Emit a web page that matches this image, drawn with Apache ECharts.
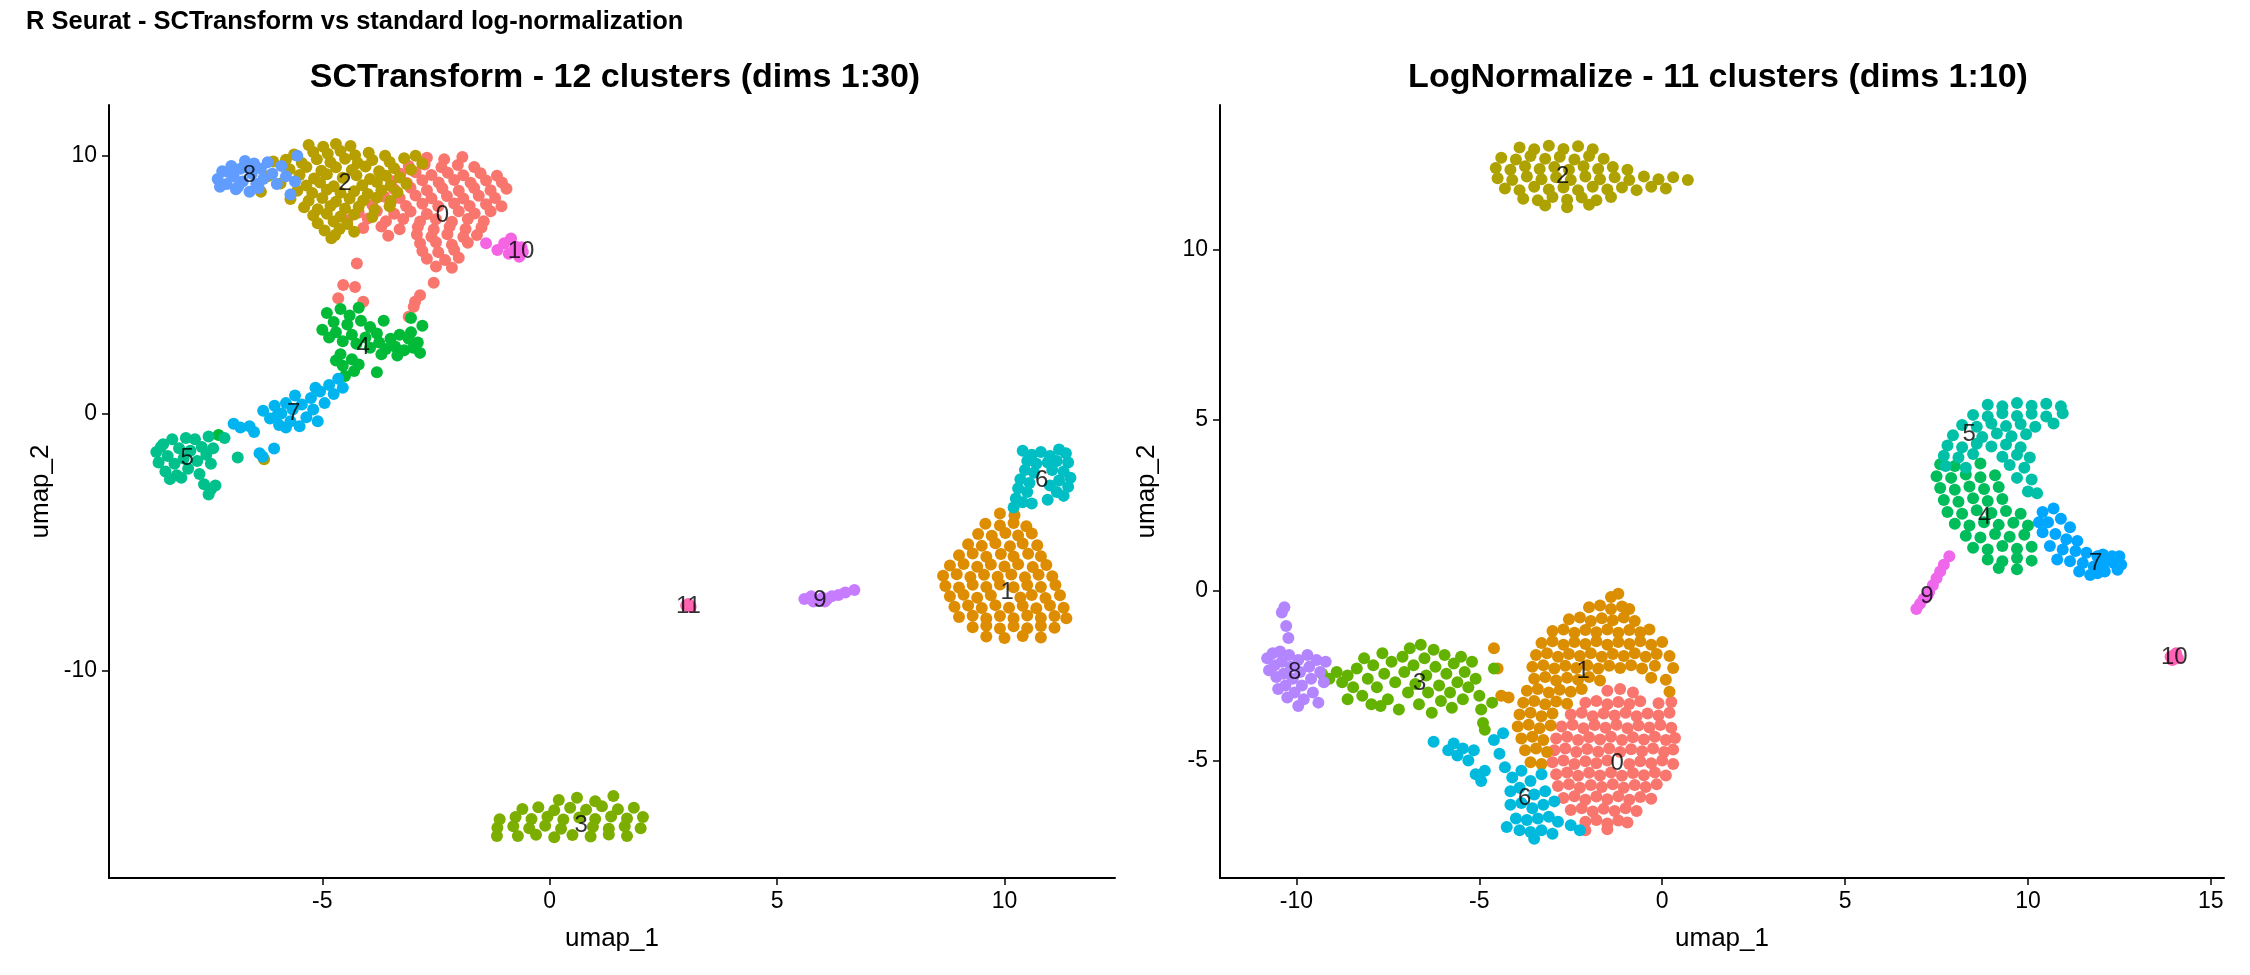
<!DOCTYPE html>
<html><head><meta charset="utf-8">
<script src="https://cdn.jsdelivr.net/npm/echarts@6/dist/echarts.min.js"></script>
<style>html,body{margin:0;padding:0;background:#fff;overflow:hidden}#c{width:2250px;height:975px}</style>
</head><body><div id="c"></div>
<script>
// ---------- tick labels ----------
const LX_TICKS = [-5, 0, 5, 10];
const LY_TICKS = [-10, 0, 10];
const RX_TICKS = [-10, -5, 0, 5, 10, 15];
const RY_TICKS = [-5, 0, 5, 10];

// ---------- cluster names & colours ----------
const L_NAMES = ['0','1','2','3','4','5','6','7','8','9','10','11'];
const L_COLORS = ['#F8766D','#DE8C00','#B79F00','#7CAE00','#00BA38','#00C08B','#00BFC4','#00B4F0','#619CFF','#C77CFF','#F564E3','#FF64B0'];
const R_NAMES = ['0','1','2','3','4','5','6','7','8','9','10'];
const R_COLORS = ['#F8766D','#DB8E00','#AEA200','#64B200','#00BD5C','#00C1A7','#00BADE','#00A6FF','#B385FF','#EF67EB','#FF63B6'];

// ---------- cluster label positions ----------
const L_LABEL_POS = [[-2.36,7.69],[10.06,-6.96],[-4.5,8.93],[0.69,-16.0],[-4.1,2.58],[-7.97,-1.75],[10.82,-2.59],[-5.63,0.0],[-6.6,9.24],[5.94,-7.24],[-0.63,6.27],[3.05,-7.47]];
const R_LABEL_POS = [[-1.23,-5.08],[-2.16,-2.38],[-2.72,12.14],[-6.63,-2.72],[8.82,2.14],[8.39,4.58],[-3.76,-6.12],[11.85,0.8],[-10.05,-2.4],[7.24,-0.17],[14.0,-1.97]];

// ---------- SCTransform (left) cells ----------
const L0 = [[-2.7,9.92],[-2.32,9.86],[-1.92,9.95],[-3.1,9.6],[-2.75,9.66],[-2.38,9.55],[-2.02,9.64],[-1.66,9.56],
[-3.28,9.3],[-2.95,9.36],[-2.6,9.25],[-2.24,9.34],[-1.9,9.24],[-1.52,9.32],[-1.16,9.22],
[-3.48,9.02],[-3.14,8.94],[-2.8,9.05],[-2.44,8.96],[-2.1,9.06],[-1.74,8.95],[-1.4,9.04],[-1.05,8.96],
[-3.42,8.7],[-3.06,8.76],[-2.7,8.66],[-2.36,8.74],[-2.0,8.64],[-1.66,8.75],[-1.3,8.66],[-0.95,8.72],
[-3.64,8.42],[-3.3,8.36],[-2.95,8.46],[-2.6,8.35],[-2.26,8.44],[-1.9,8.34],[-1.56,8.45],[-1.2,8.36],
[-3.9,8.1],[-3.5,8.16],[-3.16,8.05],[-2.8,8.14],[-2.45,8.04],[-2.1,8.15],[-1.76,8.05],[-1.4,8.12],[-1.06,8.04],
[-4.2,7.8],[-3.8,7.86],[-3.42,7.75],[-3.06,7.84],[-2.7,7.74],[-2.0,7.85],[-1.65,7.76],[-1.3,7.85],
[-4.45,7.5],[-4.0,7.56],[-3.6,7.46],[-3.22,7.55],[-2.85,7.45],[-2.5,7.54],[-2.15,7.44],[-1.8,7.55],[-1.45,7.46],
[-4.1,7.2],[-3.7,7.25],[-3.3,7.15],[-2.9,7.24],[-2.55,7.14],[-2.2,7.25],[-1.85,7.16],[-1.5,7.22],
[-3.55,6.9],[-2.92,6.94],[-2.6,6.86],[-2.25,6.95],[-1.9,6.85],[-1.6,6.92],
[-2.85,6.6],[-2.5,6.64],[-2.15,6.55],[-1.8,6.62],[-2.8,6.3],[-2.45,6.26],[-2.1,6.34],
[-2.7,6.0],[-2.3,5.95],[-2.0,6.04],[-2.5,5.7],[-2.15,5.65],
[-4.24,5.82],[-4.54,4.98],[-4.28,4.91],[-4.1,4.33],[-4.65,4.47],[-2.55,5.07],[-2.85,4.59],[-2.96,4.33],[-2.99,4.14],[-3.1,3.75]];
const L1 = [[9.9,-3.88],[10.22,-3.95],[9.58,-4.28],[9.9,-4.35],[10.2,-4.25],[10.48,-4.38],
[9.42,-4.68],[9.72,-4.75],[10.02,-4.64],[10.3,-4.74],[10.6,-4.66],
[9.2,-5.08],[9.5,-5.14],[9.8,-5.04],[10.12,-5.15],[10.4,-5.05],[10.72,-5.12],
[9.0,-5.5],[9.3,-5.44],[9.6,-5.56],[9.92,-5.46],[10.2,-5.55],[10.52,-5.45],[10.8,-5.54],
[8.8,-5.9],[9.1,-5.84],[9.4,-5.95],[9.7,-5.86],[10.0,-5.94],[10.3,-5.85],[10.62,-5.96],[10.92,-5.88],
[8.65,-6.3],[8.95,-6.24],[9.25,-6.35],[9.55,-6.26],[9.85,-6.34],[10.15,-6.25],[10.45,-6.36],[10.75,-6.26],[11.05,-6.32],
[8.7,-6.7],[9.0,-6.76],[9.3,-6.65],[9.6,-6.74],[9.9,-6.64],[10.2,-6.75],[10.5,-6.66],[10.8,-6.74],[11.12,-6.66],
[8.8,-7.1],[9.1,-7.04],[9.4,-7.15],[9.7,-7.06],[10.35,-7.14],[10.6,-7.05],[10.9,-7.16],[11.22,-7.06],
[8.9,-7.5],[9.2,-7.45],[9.5,-7.55],[9.8,-7.44],[10.1,-7.54],[10.4,-7.46],[10.7,-7.56],[11.0,-7.45],[11.3,-7.54],
[9.0,-7.9],[9.3,-7.85],[9.6,-7.96],[9.9,-7.86],[10.2,-7.95],[10.5,-7.84],[10.8,-7.94],[11.1,-7.86],[11.36,-7.95],
[9.3,-8.3],[9.6,-8.24],[9.9,-8.35],[10.2,-8.26],[10.5,-8.34],[10.8,-8.25],[11.1,-8.32],
[9.6,-8.66],[10.0,-8.72],[10.4,-8.64],[10.8,-8.7]];
const L2 = [[-5.3,10.42],[-4.98,10.35],[-4.7,10.46],[-4.38,10.38],
[-5.62,10.05],[-5.2,10.15],[-4.88,10.08],[-4.6,10.18],[-4.28,10.02],[-3.98,10.12],[-3.62,10.0],
[-6.08,9.78],[-5.8,9.85],[-5.45,9.72],[-5.12,9.86],[-4.82,9.75],[-4.5,9.88],[-4.22,9.72],[-3.9,9.84],[-3.52,9.76],[-3.2,9.9],
[-5.72,9.48],[-5.35,9.56],[-5.02,9.42],[-4.7,9.55],[-4.35,9.45],[-4.05,9.58],[-3.75,9.4],[-3.42,9.52],[-3.05,9.46],
[-6.2,9.2],[-5.5,9.25],[-5.18,9.12],[-4.9,9.28],[-4.55,9.15],[-4.25,9.24],[-3.95,9.1],[-3.6,9.22],[-3.3,9.16],
[-5.92,8.92],[-5.35,8.85],[-5.05,8.96],[-4.75,8.82],[-4.12,8.86],[-3.8,8.98],[-3.5,8.84],[-3.15,8.9],
[-6.35,8.6],[-5.55,8.64],[-5.22,8.55],[-4.9,8.68],[-4.6,8.56],[-4.3,8.62],[-4.0,8.52],[-3.7,8.66],[-3.35,8.58],
[-5.7,8.32],[-5.3,8.25],[-5.0,8.36],[-4.7,8.22],[-4.4,8.34],[-4.1,8.26],[-3.8,8.38],[-3.5,8.24],
[-5.4,8.0],[-5.1,7.92],[-4.82,8.05],[-4.5,7.95],[-4.2,8.02],[-3.85,7.9],[-3.52,8.04],
[-5.2,7.68],[-4.9,7.75],[-4.6,7.64],[-4.3,7.72],[-3.9,7.62],
[-5.1,7.38],[-4.75,7.45],[-4.45,7.35],[-4.95,7.1],[-4.62,7.16],[-4.3,7.05],[-4.8,6.8],[-4.72,6.92],
[-2.95,10.0],[-2.8,9.7],[-6.28,-1.78]];
const L3 = [[0.2,-15.0],[0.6,-14.92],[1.0,-15.05],[1.4,-14.85],
[-0.6,-15.35],[-0.25,-15.28],[0.1,-15.4],[0.45,-15.3],[0.8,-15.38],[1.15,-15.25],[1.5,-15.36],[1.85,-15.3],
[-1.1,-15.75],[-0.75,-15.66],[-0.4,-15.74],[-0.05,-15.65],[0.3,-15.76],[0.65,-15.68],[1.0,-15.74],[1.35,-15.64],[1.7,-15.72],[2.05,-15.66],
[-1.15,-16.08],[-0.8,-16.02],[-0.45,-16.1],[-0.1,-16.0],[0.25,-16.12],[0.95,-16.04],[1.3,-16.12],[1.65,-16.02],[2.0,-16.1],
[-0.7,-16.4],[-0.3,-16.35],[0.1,-16.45],[0.5,-16.36],[0.9,-16.42],[1.3,-16.34],[1.7,-16.4],[-1.16,-16.4]];
const L4 = [[-4.9,3.9],[-4.6,4.05],[-4.4,3.8],[-4.75,3.55],[-4.45,3.45],[-4.15,3.6],[-3.95,3.35],[-5.0,3.25],[-4.7,3.15],[-4.35,3.05],
[-4.05,2.95],[-4.55,2.8],[-4.25,2.7],[-3.8,3.1],[-3.65,3.6],[-4.85,2.95],[-4.2,4.1],
[-3.75,2.75],[-3.5,2.9],[-3.3,3.05],[-3.1,2.9],[-2.9,2.75],[-3.6,2.5],[-3.4,2.6],[-3.2,2.45],[-3.0,2.55],[-2.85,2.35],[-3.35,2.25],[-3.7,2.3],[-3.05,3.15],[-3.95,2.55],
[-4.6,2.3],[-4.35,2.1],[-4.55,1.85],[-4.3,1.65],[-4.5,1.45],[-4.2,1.9],[-4.7,2.05],[-3.8,1.6],[-2.8,3.4],[-3.05,3.7],[-7.28,-0.84]];
const L5 = [[-8.65,-1.5],[-8.6,-1.9],[-8.5,-1.2],[-8.45,-2.25],[-8.4,-1.65],[-8.3,-1.0],[-8.25,-1.95],[-8.2,-2.4],[-8.15,-1.35],[-8.05,-1.75],
[-8.0,-0.95],[-7.95,-2.15],[-7.9,-1.45],[-7.8,-1.0],[-7.75,-1.85],[-7.7,-2.35],[-7.65,-1.3],[-7.55,-1.6],[-7.5,-0.9],[-7.45,-1.95],
[-7.4,-1.35],[-8.35,-2.55],[-8.55,-1.3],[-7.6,-2.75],[-7.45,-2.95],[-7.35,-2.8],[-7.5,-3.15],[-7.15,-0.95],[-8.1,-2.5],[-6.86,-1.71]];
const L6 = [[10.4,-1.45],[10.6,-1.6],[10.8,-1.5],[11.0,-1.65],[11.2,-1.4],[11.35,-1.55],[10.5,-1.85],[10.7,-1.95],[10.95,-1.9],[11.15,-1.85],
[11.4,-1.9],[10.45,-2.2],[10.65,-2.3],[11.05,-2.2],[11.3,-2.25],[11.45,-2.5],[10.35,-2.55],[10.55,-2.7],[11.2,-2.6],[11.0,-2.8],
[11.4,-2.85],[10.3,-2.9],[10.5,-3.05],[11.15,-3.05],[10.25,-3.3],[10.4,-3.45],[10.95,-3.35],[10.2,-3.65],[10.6,-3.5],[11.3,-3.2]];
const L7 = [[-6.3,0.1],[-6.15,-0.2],[-6.05,0.3],[-5.95,-0.45],[-5.9,0.0],[-5.8,0.4],[-5.7,-0.3],[-5.65,0.15],[-5.5,-0.5],[-5.45,0.35],
[-5.35,-0.15],[-5.25,0.6],[-5.2,0.15],[-5.1,-0.3],[-5.05,0.85],[-4.95,0.4],[-4.85,1.1],[-4.75,0.75],[-4.65,1.35],[-4.55,1.0],
[-5.6,0.7],[-5.15,1.0],[-6.0,-0.1],[-5.8,-0.55],[-6.95,-0.4],[-6.8,-0.55],[-6.6,-0.5],[-6.5,-0.72],[-6.38,-1.55],[-6.31,-1.68],[-6.06,-1.36]];
const L8 = [[-7.3,9.1],[-7.2,9.4],[-7.1,8.9],[-7.0,9.6],[-6.95,9.2],[-6.9,8.7],[-6.8,9.5],[-6.75,9.0],[-6.7,9.8],[-6.6,8.6],
[-6.55,9.3],[-6.5,9.7],[-6.45,8.9],[-6.35,9.5],[-6.3,9.1],[-6.2,9.75],[-6.1,9.3],[-6.0,8.9],[-5.9,9.6],[-5.8,9.2],
[-5.7,8.5],[-5.6,9.0],[-5.55,10.0],[-7.25,8.8],[-7.05,9.35],[-6.85,8.8],[-6.65,9.55],[-6.4,8.75]];
const L9 = [[5.6,-7.2],[5.75,-7.1],[5.9,-7.25],[6.0,-7.15],[6.1,-7.2],[6.2,-7.1],[6.35,-7.05],[6.5,-6.95],[6.7,-6.85],[5.8,-7.3],[6.05,-7.3]];
const L10 = [[-1.4,6.6],[-1.15,6.34],[-1.0,6.6],[-0.85,6.79],[-0.78,6.34],[-0.67,6.08],[-0.59,6.27],[-0.74,6.47],[-0.62,6.45],[-0.9,6.2]];
const L11 = [[3.0,-7.45],[3.1,-7.5],[3.05,-7.4]];

// ---------- LogNormalize (right) cells ----------
const R0 = [[-1.5,-2.95],[-1.15,-2.9],[-0.8,-3.0],
[-2.1,-3.3],[-1.8,-3.25],[-1.5,-3.35],[-1.2,-3.28],[-0.9,-3.34],[-0.6,-3.26],[-0.1,-3.32],[0.25,-3.28],
[-2.5,-3.65],[-2.2,-3.6],[-1.9,-3.7],[-1.6,-3.62],[-1.3,-3.68],[-1.0,-3.6],[-0.7,-3.7],[-0.4,-3.62],[-0.1,-3.68],[0.2,-3.6],
[-2.75,-4.0],[-2.45,-3.95],[-2.15,-4.05],[-1.85,-3.96],[-1.55,-4.04],[-1.25,-3.95],[-0.95,-4.05],[-0.65,-3.97],[-0.35,-4.03],[-0.05,-3.96],[0.25,-4.04],
[-2.9,-4.35],[-2.6,-4.3],[-2.3,-4.4],[-2.0,-4.32],[-1.7,-4.38],[-1.4,-4.3],[-1.1,-4.4],[-0.8,-4.32],[-0.5,-4.38],[-0.2,-4.3],[0.1,-4.4],[0.35,-4.34],
[-2.95,-4.7],[-2.65,-4.65],[-2.35,-4.75],[-2.05,-4.66],[-1.75,-4.74],[-1.45,-4.65],[-1.15,-4.75],[-0.85,-4.67],[-0.55,-4.73],[-0.25,-4.65],[0.05,-4.75],[0.3,-4.68],
[-3.0,-5.05],[-2.7,-5.0],[-2.4,-5.1],[-2.1,-5.02],[-1.8,-5.08],[-1.5,-5.0],[-0.9,-5.1],[-0.6,-5.02],[-0.3,-5.08],[0.0,-5.0],[0.3,-5.1],
[-2.9,-5.4],[-2.6,-5.35],[-2.3,-5.45],[-2.0,-5.36],[-1.7,-5.44],[-1.4,-5.35],[-1.1,-5.45],[-0.8,-5.37],[-0.5,-5.43],[-0.2,-5.35],[0.1,-5.44],
[-2.85,-5.75],[-2.55,-5.7],[-2.25,-5.8],[-1.95,-5.72],[-1.65,-5.78],[-1.35,-5.7],[-1.05,-5.8],[-0.75,-5.72],[-0.45,-5.78],[-0.15,-5.7],
[-2.7,-6.1],[-2.4,-6.05],[-2.1,-6.15],[-1.8,-6.06],[-1.5,-6.14],[-1.2,-6.05],[-0.9,-6.15],[-0.6,-6.07],[-0.3,-6.12],
[-2.5,-6.45],[-2.2,-6.4],[-1.9,-6.5],[-1.6,-6.42],[-1.3,-6.48],[-1.0,-6.4],[-0.7,-6.48],
[-2.1,-6.8],[-1.8,-6.75],[-1.5,-6.85],[-1.2,-6.76],[-0.95,-6.82],[-2.1,-7.05],[-1.5,-7.02]];
const R1 = [[-1.4,-0.2],[-1.2,-0.1],
[-2.0,-0.5],[-1.7,-0.45],[-1.4,-0.55],[-1.1,-0.48],[-0.9,-0.55],
[-2.55,-0.85],[-2.25,-0.8],[-1.95,-0.9],[-1.65,-0.82],[-1.35,-0.88],[-1.05,-0.8],[-0.75,-0.9],
[-3.0,-1.2],[-2.7,-1.15],[-2.4,-1.25],[-2.1,-1.17],[-1.8,-1.23],[-1.5,-1.15],[-1.2,-1.25],[-0.9,-1.17],[-0.6,-1.23],[-0.35,-1.15],
[-3.3,-1.55],[-3.0,-1.5],[-2.7,-1.6],[-2.4,-1.52],[-2.1,-1.58],[-1.8,-1.5],[-1.5,-1.6],[-1.2,-1.52],[-0.9,-1.58],[-0.6,-1.5],[-0.3,-1.6],[0.0,-1.52],
[-3.45,-1.9],[-3.15,-1.85],[-2.85,-1.95],[-2.55,-1.87],[-2.25,-1.93],[-1.95,-1.85],[-1.65,-1.95],[-1.35,-1.87],[-1.05,-1.93],[-0.75,-1.85],[-0.45,-1.95],[-0.15,-1.87],[0.2,-1.93],
[-3.55,-2.25],[-3.25,-2.2],[-2.95,-2.3],[-2.65,-2.22],[-2.35,-2.28],[-2.05,-2.2],[-1.75,-2.3],[-1.45,-2.22],[-1.15,-2.28],[-0.85,-2.2],[-0.55,-2.3],[-0.2,-2.22],[0.3,-2.28],
[-3.5,-2.6],[-3.2,-2.55],[-2.9,-2.65],[-2.6,-2.57],[-2.3,-2.63],[-2.0,-2.55],[-1.7,-2.65],[-0.3,-2.57],[0.1,-2.63],
[-3.7,-2.95],[-3.4,-2.9],[-3.1,-3.0],[-2.8,-2.92],[-2.5,-2.98],[-2.2,-2.9],[0.2,-2.98],
[-3.8,-3.3],[-3.5,-3.25],[-3.2,-3.35],[-2.9,-3.27],[-2.6,-3.33],
[-3.9,-3.65],[-3.6,-3.6],[-3.3,-3.7],[-3.0,-3.62],
[-3.95,-4.0],[-3.65,-3.95],[-3.35,-4.05],[-3.05,-3.97],
[-3.85,-4.35],[-3.55,-4.3],[-3.25,-4.4],[-3.75,-4.7],[-3.45,-4.65],[-3.15,-4.75],[-3.6,-5.05],[-3.3,-5.1],
[-4.6,-1.7],[-4.4,-3.1],[-4.2,-3.15],[-4.5,-2.3]];
const R2 = [[-3.9,13.0],[-3.5,12.95],[-3.1,13.05],[-2.7,12.96],[-2.3,13.04],[-1.9,12.95],
[-4.4,12.7],[-4.0,12.65],[-3.6,12.75],[-3.2,12.67],[-2.8,12.73],[-2.4,12.65],[-2.0,12.75],[-1.6,12.67],
[-4.55,12.4],[-4.15,12.35],[-3.75,12.45],[-3.35,12.37],[-2.95,12.43],[-2.55,12.35],[-2.15,12.45],[-1.75,12.37],[-1.35,12.43],[-0.95,12.35],
[-4.5,12.1],[-4.1,12.05],[-3.7,12.15],[-3.3,12.07],[-2.9,12.13],[-2.5,12.05],[-2.1,12.15],[-1.7,12.07],[-1.3,12.13],[-0.9,12.05],[-0.5,12.15],[-0.1,12.07],[0.3,12.13],[0.7,12.05],
[-4.3,11.8],[-3.9,11.75],[-3.5,11.85],[-3.1,11.77],[-2.7,11.83],[-2.3,11.75],[-1.9,11.85],[-1.5,11.77],[-1.1,11.83],[-0.7,11.75],[-0.3,11.85],[0.1,11.8],
[-3.8,11.5],[-3.4,11.45],[-3.0,11.55],[-2.6,11.47],[-2.2,11.53],[-1.8,11.45],[-1.4,11.55],
[-3.2,11.3],[-2.6,11.25],[-2.0,11.32]];
const R3 = [[-9.3,-2.45],[-9.1,-2.6],[-8.9,-2.4],[-8.75,-2.7],[-8.6,-2.5],[-8.45,-2.85],[-8.35,-2.3],[-8.2,-3.1],[-8.15,-2.0],[-8.05,-2.6],
[-7.95,-3.35],[-7.9,-2.2],[-7.8,-2.85],[-7.65,-1.85],[-7.6,-2.45],[-7.5,-3.2],[-7.4,-2.1],[-7.3,-2.7],[-7.2,-3.5],[-7.1,-1.95],
[-7.05,-2.4],[-6.95,-3.0],[-6.9,-1.7],[-6.8,-2.2],[-6.75,-2.75],[-6.65,-3.35],[-6.6,-1.6],[-6.5,-2.0],[-6.45,-2.5],[-6.4,-3.0],
[-6.3,-3.6],[-6.25,-1.75],[-6.2,-2.25],[-6.1,-2.8],[-6.05,-3.25],[-5.95,-1.9],[-5.9,-2.45],[-5.8,-3.0],[-5.75,-3.45],[-5.7,-2.15],
[-5.6,-2.7],[-5.5,-1.95],[-5.45,-3.2],[-5.4,-2.4],[-5.3,-2.85],[-5.2,-2.1],[-5.1,-2.6],[-5.0,-3.1],[-4.95,-3.5],[-4.9,-3.9],
[-4.85,-4.1],[-4.6,-2.3],[-4.65,-3.3],[-8.6,-3.2],[-7.7,-3.4]];
const R4 = [[7.6,3.7],[8.0,3.65],[8.7,3.72],
[7.5,3.35],[7.9,3.3],[8.3,3.4],[8.7,3.32],[9.1,3.38],
[7.6,3.0],[8.0,2.95],[8.4,3.05],[8.8,2.97],[9.2,3.03],
[7.7,2.65],[8.1,2.6],[8.5,2.7],[8.9,2.62],[9.3,2.68],
[7.8,2.3],[8.2,2.25],[8.6,2.35],[9.0,2.27],[9.4,2.33],[9.8,2.25],
[8.0,1.95],[8.4,1.9],[8.8,2.0],[9.2,1.92],[9.6,1.98],[10.0,1.9],
[8.3,1.6],[8.7,1.55],[9.1,1.65],[9.5,1.57],[9.9,1.63],
[8.5,1.25],[8.9,1.2],[9.3,1.3],[9.7,1.22],[10.1,1.28],
[8.9,0.9],[9.3,0.85],[9.7,0.95],[10.1,0.87],[9.2,0.65],[9.7,0.62]];
const R5 = [[8.9,5.45],[9.3,5.4],[9.7,5.5],[10.1,5.42],[10.5,5.48],[10.9,5.4],
[8.5,5.15],[8.9,5.1],[9.3,5.2],[9.7,5.12],[10.1,5.18],[10.5,5.1],[10.95,5.2],
[8.2,4.85],[8.6,4.8],[9.0,4.9],[9.4,4.82],[9.8,4.88],[10.2,4.8],[10.7,4.9],
[7.95,4.55],[8.75,4.5],[9.15,4.6],[9.55,4.52],[9.95,4.58],
[7.8,4.25],[8.2,4.2],[8.6,4.3],[9.0,4.22],[9.4,4.28],[9.8,4.2],
[7.7,3.95],[8.1,3.9],[8.5,4.0],[9.3,3.92],[9.7,3.98],[10.05,3.9],
[7.75,3.65],[8.3,3.6],[9.5,3.68],[9.9,3.6],[9.7,3.3],[10.1,3.25],[10.0,2.9],[10.25,2.85]];
const R6 = [[-6.25,-4.45],[-5.85,-4.7],[-5.7,-4.5],[-5.6,-4.85],[-5.45,-4.65],[-5.3,-5.0],[-5.15,-4.7],[-5.1,-5.4],[-4.95,-5.6],[-4.85,-5.3],
[-4.6,-4.4],[-4.45,-4.8],[-4.35,-4.2],[-4.3,-5.2],[-4.1,-5.5],[-3.85,-5.3],[-3.6,-5.6],[-3.3,-5.4],[-4.15,-5.9],[-3.9,-5.8],
[-3.5,-6.0],[-3.2,-5.9],[-4.15,-6.3],[-3.85,-6.25],[-3.55,-6.4],[-3.25,-6.3],[-2.95,-6.2],[-4.0,-6.7],[-3.7,-6.75],[-3.4,-6.7],
[-3.1,-6.65],[-2.85,-6.8],[-3.9,-7.05],[-3.6,-7.1],[-3.3,-7.05],[-3.0,-7.15],[-3.5,-7.3],[-2.5,-6.9],[-2.25,-7.05],[-4.25,-6.95]];
const R7 = [[10.4,2.3],[10.7,2.4],[10.55,2.0],[10.9,2.1],[11.15,1.85],[10.4,1.7],[10.75,1.65],[11.05,1.5],[11.35,1.45],[10.6,1.3],
[10.95,1.2],[11.3,1.15],[11.6,1.1],[11.9,1.0],[10.8,0.9],[11.15,0.85],[11.5,0.8],[11.8,0.7],[11.95,0.75],[12.15,0.85],
[12.35,0.8],[12.55,0.75],[12.05,1.05],[12.3,1.0],[12.5,1.0],[11.4,0.55],[11.7,0.45],[11.9,0.5],[12.1,0.55],[12.45,0.6],[10.3,2.0]];
const R8 = [[-10.8,-2.0],[-10.75,-2.35],[-10.65,-1.85],[-10.6,-2.2],[-10.55,-2.55],[-10.45,-1.8],[-10.4,-2.1],[-10.35,-2.45],[-10.3,-2.8],[-10.2,-1.9],
[-10.15,-2.25],[-10.1,-2.6],[-10.05,-3.0],[-9.95,-2.05],[-9.9,-2.4],[-9.85,-2.8],[-9.8,-3.2],[-9.7,-1.9],[-9.65,-2.25],[-9.6,-2.6],
[-9.55,-3.0],[-9.45,-2.05],[-9.35,-2.4],[-9.25,-2.7],[-9.2,-2.1],[-10.25,-3.15],[-9.95,-3.4],[-10.5,-2.9],[-9.4,-3.3],
[-10.33,-0.5],[-10.4,-0.65],[-10.28,-1.05],[-10.22,-1.4]];
const R9 = [[6.95,-0.55],[7.05,-0.4],[7.15,-0.25],[7.3,-0.05],[7.4,0.15],[7.5,0.35],[7.6,0.55],[7.7,0.75],[7.85,1.0],[7.25,-0.15]];
const R10 = [[13.9,-1.95],[14.0,-1.9],[14.1,-2.0],[13.95,-2.05],[14.05,-1.85]];

const L_CELLS = [L0,L1,L2,L3,L4,L5,L6,L7,L8,L9,L10,L11];
const R_CELLS = [R0,R1,R2,R3,R4,R5,R6,R7,R8,R9,R10];

// ---------- chart ----------
const FONT = '"Liberation Sans", Arial, Helvetica, sans-serif';
const chart = echarts.init(document.getElementById('c'), null, {renderer: 'canvas'});

function xAxis(gi, min, max, ticks) {
  return {
    type: 'value', gridIndex: gi, min: min, max: max,
    name: 'umap_1', nameLocation: 'middle', nameGap: 48,
    nameTextStyle: {fontFamily: FONT, fontSize: 26, color: '#000'},
    axisLine: {show: true, onZero: false, lineStyle: {color: '#000', width: 2}},
    axisTick: {show: true, inside: false, length: 7, lineStyle: {color: '#000', width: 1.5}, customValues: ticks},
    axisLabel: {customValues: ticks, fontFamily: FONT, fontSize: 23, color: '#000', margin: 12},
    splitLine: {show: false}
  };
}
function yAxis(gi, min, max, ticks, gap) {
  return {
    type: 'value', gridIndex: gi, min: min, max: max,
    name: 'umap_2', nameLocation: 'middle', nameGap: gap,
    nameTextStyle: {fontFamily: FONT, fontSize: 26, color: '#000'},
    axisLine: {show: true, onZero: false, lineStyle: {color: '#000', width: 2}},
    axisTick: {show: true, inside: false, length: 7, lineStyle: {color: '#000', width: 1.5}, customValues: ticks},
    axisLabel: {customValues: ticks, fontFamily: FONT, fontSize: 23, color: '#000', margin: 12},
    splitLine: {show: false}
  };
}

const DOT = 12;
const series = [];
L_CELLS.forEach((d, i) => series.push({
  type: 'scatter', xAxisIndex: 0, yAxisIndex: 0, data: d, symbolSize: DOT,
  itemStyle: {color: L_COLORS[i], opacity: 1}, silent: true, name: 'L' + L_NAMES[i]
}));
R_CELLS.forEach((d, i) => series.push({
  type: 'scatter', xAxisIndex: 1, yAxisIndex: 1, data: d, symbolSize: DOT,
  itemStyle: {color: R_COLORS[i], opacity: 1}, silent: true, name: 'R' + R_NAMES[i]
}));
const labelStyle = {show: true, position: 'inside', fontFamily: FONT, fontSize: 24, color: '#000', formatter: p => p.value[2]};
series.push({
  type: 'scatter', xAxisIndex: 0, yAxisIndex: 0, symbolSize: 2, itemStyle: {color: 'rgba(0,0,0,0)'}, silent: true, z: 10,
  data: L_LABEL_POS.map((p, i) => [p[0], p[1], L_NAMES[i]]), label: labelStyle
});
series.push({
  type: 'scatter', xAxisIndex: 1, yAxisIndex: 1, symbolSize: 2, itemStyle: {color: 'rgba(0,0,0,0)'}, silent: true, z: 10,
  data: R_LABEL_POS.map((p, i) => [p[0], p[1], R_NAMES[i]]), label: labelStyle
});

chart.setOption({
  animation: false,
  backgroundColor: '#fff',
  title: [
    {text: 'R Seurat - SCTransform vs standard log-normalization', left: 21, top: 4,
     textStyle: {fontFamily: FONT, fontSize: 25.5, fontWeight: 'bold', color: '#000'}},
    {text: 'SCTransform - 12 clusters (dims 1:30)', left: 610, top: 56, textAlign: 'center',
     textStyle: {fontFamily: FONT, fontSize: 34, fontWeight: 'bold', color: '#000'}},
    {text: 'LogNormalize - 11 clusters (dims 1:10)', left: 1713, top: 56, textAlign: 'center',
     textStyle: {fontFamily: FONT, fontSize: 34, fontWeight: 'bold', color: '#000'}}
  ],
  grid: [
    {left: 109, top: 105, width: 1006, height: 773, containLabel: false},
    {left: 1220, top: 105, width: 1004, height: 773, containLabel: false}
  ],
  xAxis: [xAxis(0, -9.69, 12.43, LX_TICKS), xAxis(1, -12.09, 15.36, RX_TICKS)],
  yAxis: [yAxis(0, -18.03, 11.97, LY_TICKS, 55), yAxis(1, -8.45, 14.25, RY_TICKS, 60)],
  series: series
});
</script></body></html>
